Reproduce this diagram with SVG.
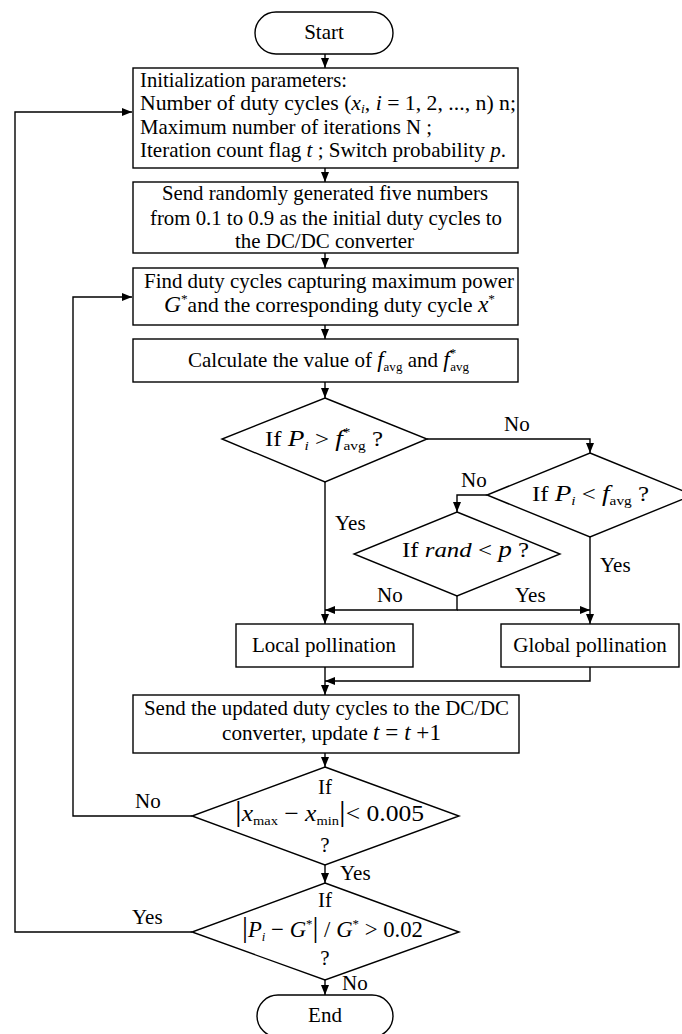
<svg xmlns="http://www.w3.org/2000/svg" width="682" height="1034" viewBox="0 0 682 1034">
<style>
.bx{fill:#fff;stroke:#000;stroke-width:1.4}
.ln{fill:none;stroke:#000;stroke-width:1.4}
.t{font-family:"Liberation Serif","Times New Roman",serif;font-size:21px;fill:#000}
.c{text-anchor:middle}
.i{font-style:italic}
.m{font-size:23px}
.s{font-size:13px}
</style>
<defs>
<marker id="ah" viewBox="0 0 10 8" refX="10" refY="4" markerWidth="10" markerHeight="8" markerUnits="userSpaceOnUse" orient="auto">
<path d="M0,0 L10,4 L0,8 z" fill="#000"/>
</marker>
</defs>
<rect width="682" height="1034" fill="#fff"/>

<g id="connectors" class="ln" marker-end="url(#ah)">
<path d="M325,54 V68"/>
<path d="M325,168 V182"/>
<path d="M325,253 V268"/>
<path d="M325,325 V339"/>
<path d="M325,382 V398"/>
<path d="M427,439 H590 V453"/>
<path d="M487,495 H457 V512"/>
<path d="M325,482 V624"/>
<path d="M590,537 V624"/>
<path d="M457,596 V610 H325"/>
<path d="M457,610 H590"/>
<path d="M325,667 V695"/>
<path d="M590,667 V681 H325"/>
<path d="M325,753 V767"/>
<path d="M192,816 H73 V297 H132"/>
<path d="M325,865 V883"/>
<path d="M192,932 H15 V112 H132"/>
<path d="M325,980 V995"/>
</g>

<g id="start">
<rect class="bx" x="255" y="12" width="138" height="42" rx="21"/>
<text class="t c" x="324" y="39">Start</text>
</g>

<g id="init">
<rect class="bx" x="133" y="68" width="385" height="100"/>
<text class="t" x="140" y="87" textLength="207" lengthAdjust="spacingAndGlyphs">Initialization parameters:</text>
<text class="t" x="140" y="110" textLength="376" lengthAdjust="spacingAndGlyphs">Number of duty cycles (<tspan class="i">x</tspan><tspan class="s i" dy="3">i</tspan><tspan dy="-3">, </tspan><tspan class="i">i</tspan> = 1, 2, ..., n) n;</text>
<text class="t" x="140" y="134" textLength="292" lengthAdjust="spacingAndGlyphs">Maximum number of iterations N ;</text>
<text class="t" x="140" y="157" textLength="366" lengthAdjust="spacingAndGlyphs">Iteration count flag <tspan class="i">t</tspan> ; Switch probability <tspan class="i">p</tspan>.</text>
</g>

<g id="send-random">
<rect class="bx" x="133" y="182" width="385" height="71"/>
<text class="t" x="162" y="200" textLength="326" lengthAdjust="spacingAndGlyphs">Send randomly generated five numbers</text>
<text class="t" x="150" y="225" textLength="352" lengthAdjust="spacingAndGlyphs">from 0.1 to 0.9 as the initial duty cycles to</text>
<text class="t" x="235" y="248" textLength="179" lengthAdjust="spacingAndGlyphs">the DC/DC converter</text>
</g>

<g id="find">
<rect class="bx" x="133" y="268" width="385" height="57"/>
<text class="t" x="144" y="288" textLength="370" lengthAdjust="spacingAndGlyphs">Find duty cycles capturing maximum power</text>
<text class="t" x="164" y="312" textLength="331" lengthAdjust="spacingAndGlyphs"><tspan class="m i">G</tspan><tspan class="s" dy="-9">*</tspan><tspan dy="9">and the corresponding duty cycle </tspan><tspan class="m i">x</tspan><tspan class="s" dy="-9">*</tspan></text>
</g>

<g id="calc">
<rect class="bx" x="133" y="339" width="385" height="43"/>
<text class="t" x="188" y="367" textLength="281" lengthAdjust="spacingAndGlyphs">Calculate the value of <tspan class="m i">f</tspan><tspan class="s" dy="4">avg</tspan><tspan dy="-4"> and </tspan><tspan class="m i">f</tspan><tspan class="s" dy="-10">*</tspan><tspan class="s" dx="-6" dy="14">avg</tspan></text>
</g>

<g id="d1">
<polygon class="bx" points="325,398 427,439 325,482 222,439"/>
<text class="t" x="265" y="446" textLength="118" lengthAdjust="spacingAndGlyphs">If <tspan class="m i">P</tspan><tspan class="s i" dy="4">i</tspan><tspan dy="-4"> &gt; </tspan><tspan class="m i">f</tspan><tspan class="s" dy="-10">*</tspan><tspan class="s" dx="-6" dy="14">avg</tspan><tspan dy="-4">   ?</tspan></text>
</g>

<g id="d2">
<polygon class="bx" points="590,453 693,495 590,537 487,495"/>
<text class="t" x="532" y="501" textLength="117" lengthAdjust="spacingAndGlyphs">If  <tspan class="m i">P</tspan><tspan class="s i" dy="4">i</tspan><tspan dy="-4"> &lt; </tspan><tspan class="m i">f</tspan><tspan class="s" dy="4">avg</tspan><tspan dy="-4"> ?</tspan></text>
</g>

<g id="d3">
<polygon class="bx" points="457,512 560,554 457,596 354,554"/>
<text class="t" x="402" y="557" textLength="127" lengthAdjust="spacingAndGlyphs">If <tspan class="i">rand</tspan> &lt; <tspan class="m i">p</tspan> ?</text>
</g>

<g id="local">
<rect class="bx" x="236" y="624" width="177" height="43"/>
<text class="t c" x="324" y="652">Local pollination</text>
</g>

<g id="global">
<rect class="bx" x="501" y="624" width="178" height="43"/>
<text class="t c" x="590" y="652">Global pollination</text>
</g>

<g id="send-updated">
<rect class="bx" x="133" y="695" width="386" height="58"/>
<text class="t" x="144" y="715" textLength="365" lengthAdjust="spacingAndGlyphs">Send the updated duty cycles to the DC/DC</text>
<text class="t" x="222" y="740" textLength="219" lengthAdjust="spacingAndGlyphs">converter, update <tspan class="m i">t</tspan><tspan class="m"> = </tspan><tspan class="m i">t</tspan><tspan class="m"> +1</tspan></text>
</g>

<g id="d4">
<polygon class="bx" points="325,767 459,816 325,865 192,816"/>
<text class="t c" x="325" y="794">If</text>
<text class="t" x="235" y="821" textLength="189" lengthAdjust="spacingAndGlyphs"><tspan style="font-size:30px">|</tspan><tspan class="m i">x</tspan><tspan class="s" dy="4">max</tspan><tspan class="m" dy="-4"> − </tspan><tspan class="m i">x</tspan><tspan class="s" dy="4">min</tspan><tspan style="font-size:30px" dy="-4">|</tspan><tspan class="m">&lt; 0.005</tspan></text>
<text class="t c" x="325" y="852">?</text>
</g>

<g id="d5">
<polygon class="bx" points="325,883 459,932 325,980 192,932"/>
<text class="t c" x="325" y="907">If</text>
<text class="t" x="242" y="937" textLength="181" lengthAdjust="spacingAndGlyphs"><tspan style="font-size:30px">|</tspan><tspan class="m i">P</tspan><tspan class="s i" dy="4">i</tspan><tspan class="m" dy="-4"> − </tspan><tspan class="m i">G</tspan><tspan class="s" dy="-9">*</tspan><tspan style="font-size:30px" dy="9">|</tspan><tspan class="m"> / </tspan><tspan class="m i">G</tspan><tspan class="s" dy="-9">*</tspan><tspan class="m" dy="9"> &gt; 0.02</tspan></text>
<text class="t c" x="325" y="965">?</text>
</g>

<g id="end">
<rect class="bx" x="257" y="995" width="136" height="42" rx="21"/>
<text class="t c" x="325" y="1022">End</text>
</g>

<g id="labels" class="t">
<text x="504" y="431">No</text>
<text x="461" y="487">No</text>
<text x="335" y="530">Yes</text>
<text x="600" y="572">Yes</text>
<text x="377" y="602">No</text>
<text x="515" y="602">Yes</text>
<text x="135" y="808">No</text>
<text x="340" y="880">Yes</text>
<text x="132" y="924">Yes</text>
<text x="342" y="990">No</text>
</g>
</svg>
